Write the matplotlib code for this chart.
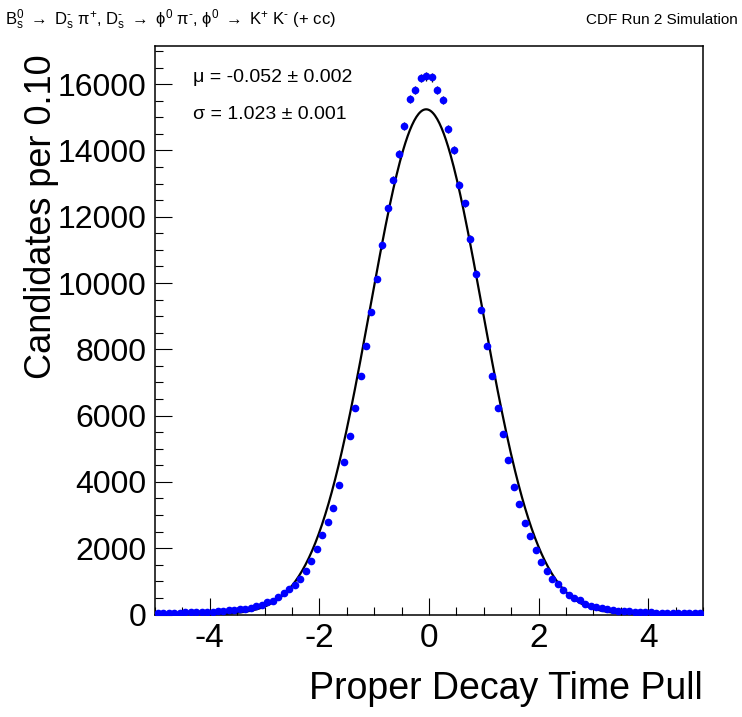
import numpy as np
import matplotlib
matplotlib.use('Agg')
import matplotlib.pyplot as plt
from matplotlib.ticker import MultipleLocator

##### DATA #####
# pull histogram: 100 bins of width 0.1 from -5 to 5
bin_lo = -5.0
bin_w = 0.1
counts = [36, 36, 36, 45, 55, 65, 65, 65, 75, 75,
          80, 96, 106, 126, 136, 157, 176, 196, 247, 277,
          378, 417, 528, 640, 760, 891, 1082, 1323, 1616, 1969,
          2392, 2794, 3226, 3920, 4600, 5390, 6235, 7180, 8100, 9120,
          10120, 11140, 12250, 13120, 13890, 14750, 15560, 15830, 16190, 16230,
          16200, 15830, 15530, 14650, 14010, 12950, 12400, 11340, 10280, 9200,
          8100, 7200, 6230, 5450, 4670, 3850, 3346, 2760, 2355, 1939,
          1575, 1315, 1081, 925, 745, 589, 505, 423, 308, 257,
          217, 196, 166, 145, 115, 106, 96, 75, 75, 65,
          65, 55, 55, 55, 45, 36, 36, 36, 36, 36]

# gaussian fit result
fit_mu = -0.052
fit_mu_err = 0.002
fit_sigma = 1.023
fit_sigma_err = 0.001
fit_peak = 15240.

xticks = [-4, -2, 0, 2, 4]
yticks = [0, 2000, 4000, 6000, 8000, 10000, 12000, 14000, 16000]

##### STYLE #####
plt.rcParams['font.family'] = ['Liberation Sans', 'DejaVu Sans']
plt.rcParams['mathtext.fontset'] = 'custom'
plt.rcParams['mathtext.rm'] = 'Liberation Sans'
plt.rcParams['mathtext.it'] = 'Liberation Sans:italic'
plt.rcParams['mathtext.default'] = 'regular'
plt.rcParams['axes.unicode_minus'] = False

fig = plt.figure(figsize=(7.42, 7.17), dpi=100)
ax = fig.add_axes([155/742., 102.5/717., 548/742., 568.5/717.])

counts = np.array(counts, dtype=float)
centers = bin_lo + bin_w*(np.arange(len(counts)) + 0.5)
errors = np.sqrt(counts)

# fit curve
xf = np.linspace(-5, 5, 500)
yf = fit_peak*np.exp(-0.5*((xf - fit_mu)/fit_sigma)**2)

ax.errorbar(centers, counts, yerr=errors, fmt='o', color='blue', ms=4.5,
            mec='blue', ecolor='black', elinewidth=0.9, capsize=0, zorder=3)
ax.plot(xf, yf, color='black', lw=1.6, zorder=2)

ax.set_xlim(-5, 5)
ax.set_ylim(0, 17150)
ax.set_xticks(xticks)
ax.set_yticks(yticks)
ax.xaxis.set_minor_locator(MultipleLocator(0.5))
ax.yaxis.set_minor_locator(MultipleLocator(500))
ax.tick_params(which='both', direction='in', top=False, right=False,
               labelsize=23, width=0.8)
ax.tick_params(axis='x', labelsize=24)
ax.tick_params(which='major', length=12)
ax.tick_params(which='minor', length=6)
ax.tick_params(axis='x', pad=6)
ax.tick_params(axis='y', pad=6)
for s in ax.spines.values():
    s.set_linewidth(1.1)

ax.set_ylabel('Candidates per 0.10', fontsize=26)
ax.yaxis.set_label_coords(-0.176, 0.70)
ax.set_xlabel('Proper Decay Time Pull', fontsize=27, ha='right')
ax.xaxis.set_label_coords(1.0, -0.10)

ax.text(0.069, 0.944, 'μ = %.3f ± %.3f' % (fit_mu, fit_mu_err),
        transform=ax.transAxes, fontsize=14, va='center', ha='left')
ax.text(0.069, 0.880, 'σ = %.3f ± %.3f' % (fit_sigma, fit_sigma_err),
        transform=ax.transAxes, fontsize=14, va='center', ha='left')

fig.text(5/742., 1 - 20/717.,
         r'B$_{s}^{0}$ $\rightarrow$ D$_{s}^{\text{-}}$ π$^{+}$, '
         r'D$_{s}^{\text{-}}$ $\rightarrow$ ϕ$^{0}$ π$^{\text{-}}$, '
         r'ϕ$^{0}$ $\rightarrow$ K$^{+}$ K$^{\text{-}}$ (+ cc)',
         fontsize=12, ha='left', va='center')
fig.text(738/742., 1 - 20/717., 'CDF Run 2 Simulation',
         fontsize=11, ha='right', va='center')

fig.savefig('out.png', dpi=100)
